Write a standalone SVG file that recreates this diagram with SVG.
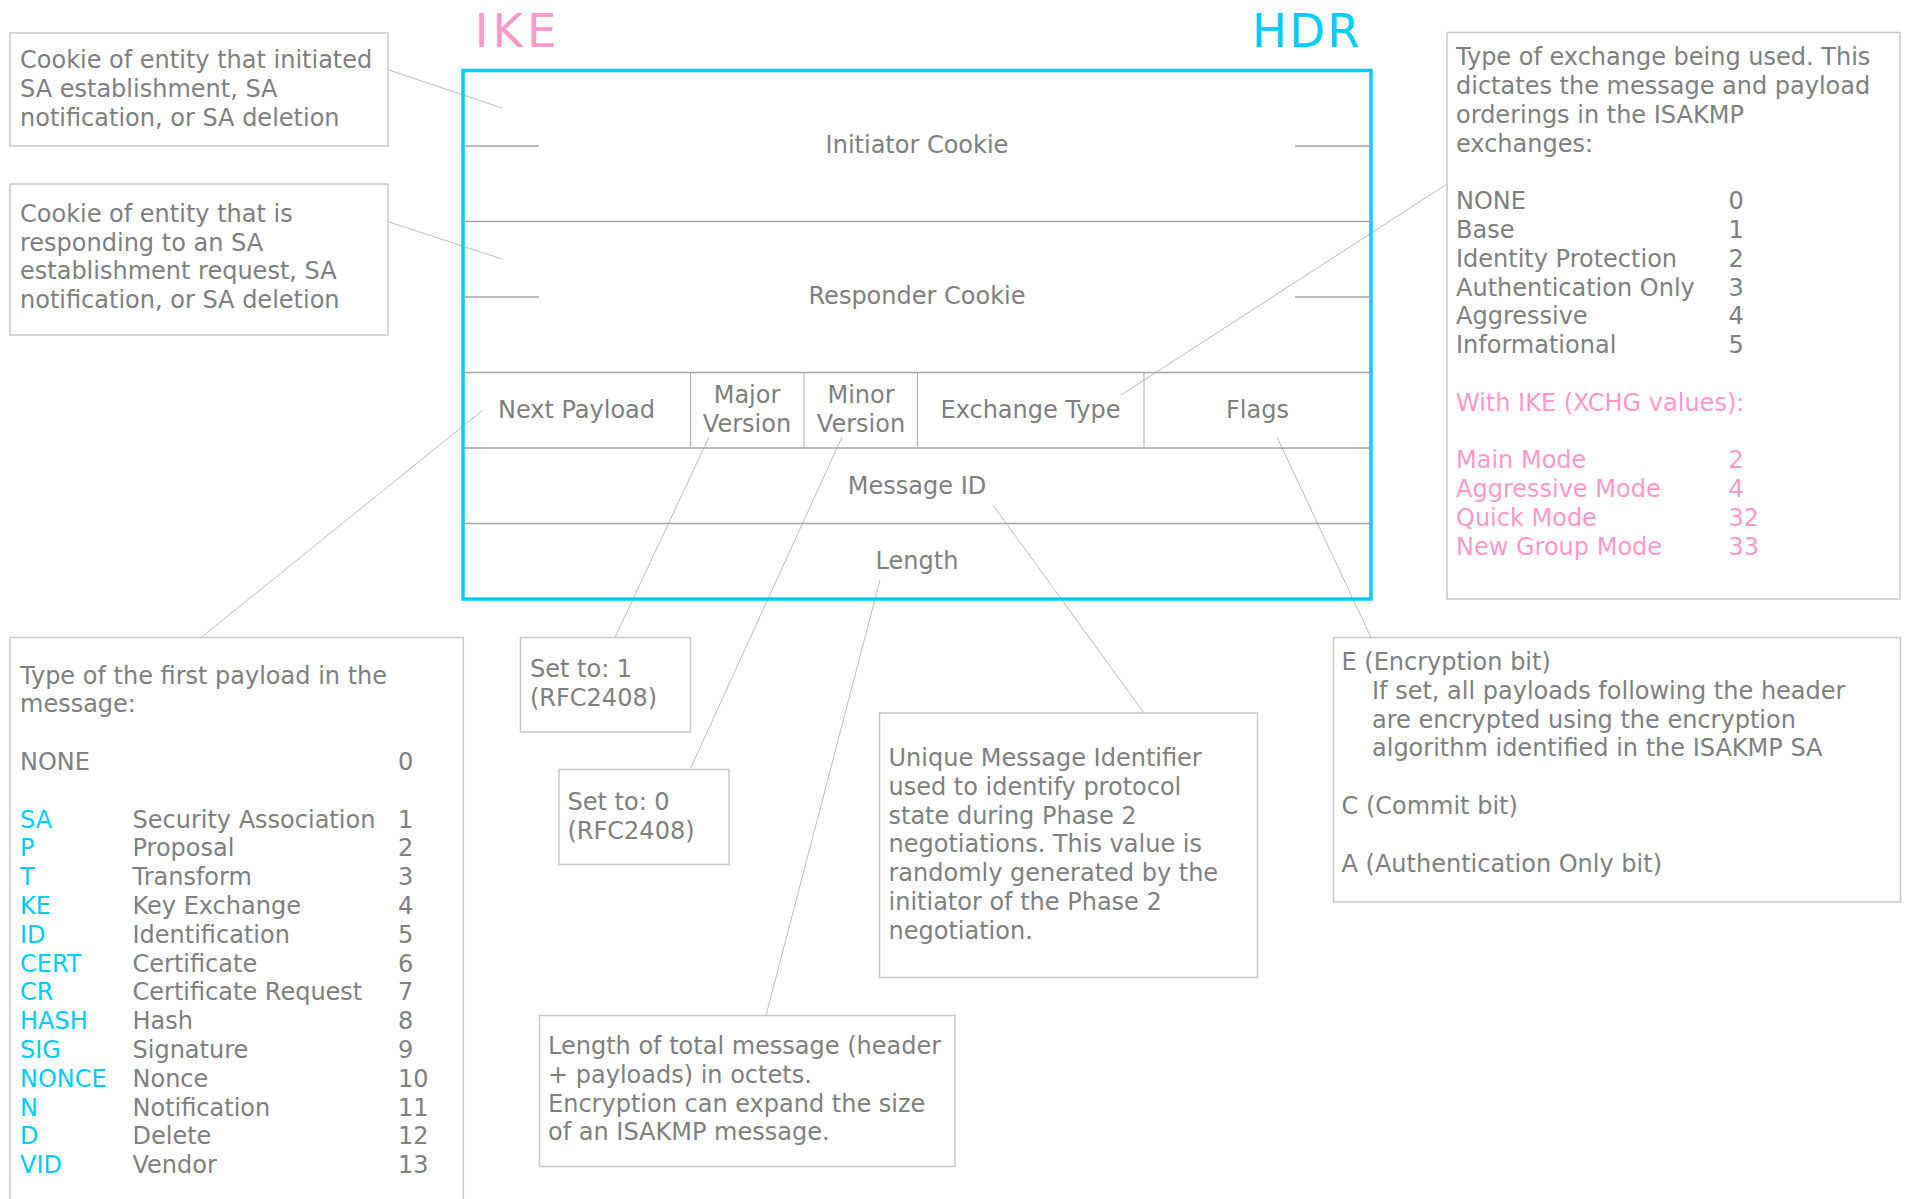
<svg xmlns="http://www.w3.org/2000/svg" width="1907" height="1199" viewBox="0 0 1907 1199">
<style>
text{font-family:"DejaVu Sans","Liberation Sans",sans-serif;font-size:24px;fill:#808080}
.c{text-anchor:middle}
.blue{fill:#00ccff}
.pink{fill:#ff99cc}
.title{font-size:46.5px}
.box{fill:#fff;stroke:#c8c8c8;stroke-width:1.5}
#connectors line{stroke:#bdbdbd;stroke-width:1;fill:none}
.row{stroke:#a6a6a6;stroke-width:1.5}
.col{stroke:#ababab;stroke-width:1}
.tick{stroke:#a6a6a6;stroke-width:1.5}
</style>
<rect width="1907" height="1199" fill="#ffffff"/>

<g id="titles">
<text class="title pink" x="474.7" y="46.7" letter-spacing="4">IKE</text>
<text class="title blue" x="1252.1" y="46.7" letter-spacing="2.2">HDR</text>
</g>

<g id="connectors">
<line x1="389" y1="70" x2="502" y2="108"/>
<line x1="389" y1="222" x2="502" y2="259"/>
<line x1="1121" y1="395" x2="1447" y2="184"/>
<line x1="483" y1="410" x2="201" y2="637.5"/>
<line x1="709" y1="437" x2="615" y2="637.5"/>
<line x1="842" y1="437" x2="690" y2="769.5"/>
<line x1="880" y1="580" x2="766" y2="1015.5"/>
<line x1="993" y1="505" x2="1144" y2="713"/>
<line x1="1277" y1="437" x2="1371" y2="637.5"/>
</g>

<g id="header">
<rect x="463" y="70.5" width="908" height="528.5" fill="none" stroke="#00ccff" stroke-width="3.5"/>
<line class="row" x1="463" y1="221.5" x2="1371" y2="221.5"/>
<line class="row" x1="463" y1="372.5" x2="1371" y2="372.5"/>
<line class="row" x1="463" y1="448" x2="1371" y2="448"/>
<line class="row" x1="463" y1="523.5" x2="1371" y2="523.5"/>
<line class="col" x1="690.5" y1="372.5" x2="690.5" y2="448"/>
<line class="col" x1="804" y1="372.5" x2="804" y2="448"/>
<line class="col" x1="917.5" y1="372.5" x2="917.5" y2="448"/>
<line class="col" x1="1144" y1="372.5" x2="1144" y2="448"/>
<line class="tick" x1="463" y1="146" x2="539" y2="146"/>
<line class="tick" x1="1295" y1="146" x2="1371" y2="146"/>
<line class="tick" x1="463" y1="297" x2="539" y2="297"/>
<line class="tick" x1="1295" y1="297" x2="1371" y2="297"/>
<g id="f-initiator"><text class="c" x="917" y="153.4">Initiator Cookie</text></g>
<g id="f-responder"><text class="c" x="917" y="304.4">Responder Cookie</text></g>
<g id="f-nextpayload"><text class="c" x="576.5" y="418">Next Payload</text></g>
<g id="f-major"><text class="c" x="747" y="403">Major</text><text class="c" x="747" y="432">Version</text></g>
<g id="f-minor"><text class="c" x="861" y="403">Minor</text><text class="c" x="861" y="432">Version</text></g>
<g id="f-exchange"><text class="c" x="1030.5" y="418">Exchange Type</text></g>
<g id="f-flags"><text class="c" x="1257.5" y="418">Flags</text></g>
<g id="f-msgid"><text class="c" x="917" y="493.5">Message ID</text></g>
<g id="f-length"><text class="c" x="917" y="569">Length</text></g>
</g>

<g id="note-initiator">
<rect class="box" x="10" y="33" width="378" height="113"/>
<text x="20" y="68.3">Cookie of entity that initiated</text>
<text x="20" y="97.1">SA establishment, SA</text>
<text x="20" y="125.9">notification, or SA deletion</text>
</g>

<g id="note-responder">
<rect class="box" x="10" y="184" width="378" height="151"/>
<text x="20" y="221.7">Cookie of entity that is</text>
<text x="20" y="250.5">responding to an SA</text>
<text x="20" y="279.3">establishment request, SA</text>
<text x="20" y="308.1">notification, or SA deletion</text>
</g>

<g id="note-exchange">
<rect class="box" x="1447" y="32.5" width="453" height="566.5"/>
<text x="1456" y="65.2">Type of exchange being used. This</text>
<text x="1456" y="94">dictates the message and payload</text>
<text x="1456" y="122.8">orderings in the ISAKMP</text>
<text x="1456" y="151.6">exchanges:</text>
<text x="1456" y="209.2">NONE</text><text x="1728.5" y="209.2">0</text>
<text x="1456" y="238">Base</text><text x="1728.5" y="238">1</text>
<text x="1456" y="266.8">Identity Protection</text><text x="1728.5" y="266.8">2</text>
<text x="1456" y="295.6">Authentication Only</text><text x="1728.5" y="295.6">3</text>
<text x="1456" y="324.4">Aggressive</text><text x="1728.5" y="324.4">4</text>
<text x="1456" y="353.2">Informational</text><text x="1728.5" y="353.2">5</text>
<text class="pink" x="1456" y="410.8">With IKE (XCHG values):</text>
<text class="pink" x="1456" y="468.4">Main Mode</text><text class="pink" x="1728.5" y="468.4">2</text>
<text class="pink" x="1456" y="497.2">Aggressive Mode</text><text class="pink" x="1728.5" y="497.2">4</text>
<text class="pink" x="1456" y="526">Quick Mode</text><text class="pink" x="1728.5" y="526">32</text>
<text class="pink" x="1456" y="554.8">New Group Mode</text><text class="pink" x="1728.5" y="554.8">33</text>
</g>

<g id="note-nextpayload">
<rect class="box" x="10" y="637.5" width="453.3" height="600"/>
<text x="20" y="683.5">Type of the first payload in the</text>
<text x="20" y="712.3">message:</text>
<text x="20" y="769.9">NONE</text><text x="398" y="769.9">0</text>
<text class="blue" x="20" y="827.5">SA</text><text x="132.5" y="827.5">Security Association</text><text x="398" y="827.5">1</text>
<text class="blue" x="20" y="856.3">P</text><text x="132.5" y="856.3">Proposal</text><text x="398" y="856.3">2</text>
<text class="blue" x="20" y="885.1">T</text><text x="132.5" y="885.1">Transform</text><text x="398" y="885.1">3</text>
<text class="blue" x="20" y="913.9">KE</text><text x="132.5" y="913.9">Key Exchange</text><text x="398" y="913.9">4</text>
<text class="blue" x="20" y="942.7">ID</text><text x="132.5" y="942.7">Identification</text><text x="398" y="942.7">5</text>
<text class="blue" x="20" y="971.5">CERT</text><text x="132.5" y="971.5">Certificate</text><text x="398" y="971.5">6</text>
<text class="blue" x="20" y="1000.3">CR</text><text x="132.5" y="1000.3">Certificate Request</text><text x="398" y="1000.3">7</text>
<text class="blue" x="20" y="1029.1">HASH</text><text x="132.5" y="1029.1">Hash</text><text x="398" y="1029.1">8</text>
<text class="blue" x="20" y="1057.9">SIG</text><text x="132.5" y="1057.9">Signature</text><text x="398" y="1057.9">9</text>
<text class="blue" x="20" y="1086.7">NONCE</text><text x="132.5" y="1086.7">Nonce</text><text x="398" y="1086.7">10</text>
<text class="blue" x="20" y="1115.5">N</text><text x="132.5" y="1115.5">Notification</text><text x="398" y="1115.5">11</text>
<text class="blue" x="20" y="1144.3">D</text><text x="132.5" y="1144.3">Delete</text><text x="398" y="1144.3">12</text>
<text class="blue" x="20" y="1173.1">VID</text><text x="132.5" y="1173.1">Vendor</text><text x="398" y="1173.1">13</text>
</g>

<g id="note-major">
<rect class="box" x="520.5" y="637.5" width="170" height="94.5"/>
<text x="530" y="677.2">Set to: 1</text>
<text x="530" y="706">(RFC2408)</text>
</g>

<g id="note-minor">
<rect class="box" x="559" y="769.5" width="170" height="95"/>
<text x="567.5" y="810.2">Set to: 0</text>
<text x="567.5" y="839">(RFC2408)</text>
</g>

<g id="note-msgid">
<rect class="box" x="879.5" y="713" width="378" height="264.5"/>
<text x="888.5" y="766">Unique Message Identifier</text>
<text x="888.5" y="794.8">used to identify protocol</text>
<text x="888.5" y="823.6">state during Phase 2</text>
<text x="888.5" y="852.4">negotiations. This value is</text>
<text x="888.5" y="881.2">randomly generated by the</text>
<text x="888.5" y="910">initiator of the Phase 2</text>
<text x="888.5" y="938.8">negotiation.</text>
</g>

<g id="note-length">
<rect class="box" x="539.5" y="1015.5" width="415.5" height="151"/>
<text x="548" y="1054">Length of total message (header</text>
<text x="548" y="1082.8">+ payloads) in octets.</text>
<text x="548" y="1111.6">Encryption can expand the size</text>
<text x="548" y="1140.4">of an ISAKMP message.</text>
</g>

<g id="note-flags">
<rect class="box" x="1333.5" y="637.5" width="567" height="264.5"/>
<text x="1341.5" y="670">E (Encryption bit)</text>
<text x="1372" y="698.8">If set, all payloads following the header</text>
<text x="1372" y="727.6">are encrypted using the encryption</text>
<text x="1372" y="756.4">algorithm identified in the ISAKMP SA</text>
<text x="1341.5" y="814">C (Commit bit)</text>
<text x="1341.5" y="871.6">A (Authentication Only bit)</text>
</g>
</svg>
